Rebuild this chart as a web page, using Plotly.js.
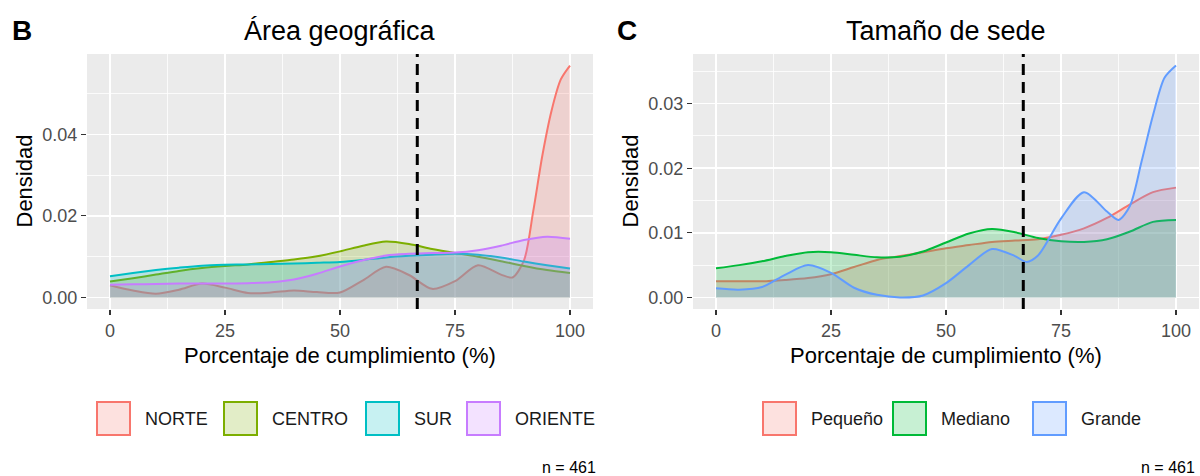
<!DOCTYPE html>
<html>
<head>
<meta charset="utf-8">
<script src="https://cdn.plot.ly/plotly-3.0.1.min.js"></script>
<style>
  html, body { margin: 0; padding: 0; background: #ffffff; }
  #chart { width: 1200px; height: 476px; }
</style>
</head>
<body>
<div id="chart"></div>
<script>
// Densidad del porcentaje de cumplimiento por área geográfica (B) y por tamaño de sede (C)

// ---- Panel B: área geográfica ----
const areaNames = ['NORTE', 'CENTRO', 'SUR', 'ORIENTE'];
const areaColors = ['#F8766D', '#7CAE00', '#00BFC4', '#C77CFF'];

const norteX = [0, 5, 10, 15, 20, 25, 30, 35, 40, 45, 50, 55, 60, 65, 70, 75, 80, 85, 87.5, 90, 92, 94, 96, 98, 100];
const norteY = [0.0030, 0.0017, 0.0009, 0.0019, 0.0034, 0.0024, 0.0011, 0.0012, 0.0017, 0.0013, 0.0012, 0.0042, 0.0075, 0.0055, 0.0021, 0.0040, 0.0079, 0.0056, 0.0049, 0.0091, 0.0211, 0.0349, 0.0459, 0.0535, 0.0569];

const centroX = [0, 5, 10, 15, 20, 25, 30, 35, 40, 45, 50, 55, 60, 65, 70, 75, 80, 85, 90, 95, 100];
const centroY = [0.0039, 0.0047, 0.0056, 0.0065, 0.0072, 0.0077, 0.0081, 0.0087, 0.0093, 0.0101, 0.0113, 0.0127, 0.0137, 0.0131, 0.0119, 0.0109, 0.0100, 0.0089, 0.0077, 0.0067, 0.0060];

const surX = [0, 5, 10, 15, 20, 25, 30, 35, 40, 45, 50, 55, 60, 65, 70, 75, 80, 85, 90, 95, 100];
const surY = [0.0052, 0.0060, 0.0067, 0.0073, 0.0078, 0.0080, 0.0081, 0.0082, 0.0083, 0.0085, 0.0087, 0.0092, 0.0098, 0.0102, 0.0105, 0.0107, 0.0105, 0.0098, 0.0088, 0.0079, 0.0071];

const orienteX = [0, 5, 10, 15, 20, 25, 30, 35, 40, 45, 50, 55, 60, 65, 70, 75, 80, 85, 90, 95, 100];
const orienteY = [0.0031, 0.0032, 0.0033, 0.0034, 0.0034, 0.0034, 0.0035, 0.0037, 0.0044, 0.0058, 0.0076, 0.0091, 0.0103, 0.0107, 0.0109, 0.0110, 0.0116, 0.0127, 0.0141, 0.0149, 0.0144];

// ---- Panel C: tamaño de sede ----
const sedeNames = ['Pequeño', 'Mediano', 'Grande'];
const sedeColors = ['#F8766D', '#00BA38', '#619CFF'];

const pequenoX = [0, 5, 10, 15, 20, 25, 30, 35, 40, 45, 50, 55, 60, 65, 70, 75, 80, 85, 90, 95, 100];
const pequenoY = [0.0025, 0.0025, 0.0025, 0.0027, 0.0030, 0.0036, 0.0047, 0.0058, 0.0064, 0.0070, 0.0076, 0.0081, 0.0086, 0.0088, 0.0090, 0.0097, 0.0107, 0.0123, 0.0144, 0.0163, 0.0170];

const medianoX = [0, 5, 10, 15, 20, 25, 30, 35, 40, 45, 50, 55, 60, 65, 70, 75, 80, 85, 90, 95, 100];
const medianoY = [0.0045, 0.0050, 0.0056, 0.0064, 0.0070, 0.0070, 0.0066, 0.0062, 0.0063, 0.0071, 0.0085, 0.0099, 0.0106, 0.0101, 0.0092, 0.0087, 0.0086, 0.0090, 0.0102, 0.0117, 0.0120];

const grandeX = [0, 5, 10, 15, 20, 25, 30, 35, 40, 45, 50, 55, 60, 65, 67.5, 70, 75, 80, 85, 87.5, 90, 92.5, 95, 97.5, 100];
const grandeY = [0.0014, 0.0012, 0.0016, 0.0035, 0.0050, 0.0038, 0.0015, 0.0004, 0.0000, 0.0003, 0.0022, 0.0050, 0.0075, 0.0064, 0.0055, 0.0065, 0.0122, 0.0163, 0.0133, 0.0120, 0.0142, 0.0210, 0.0282, 0.0340, 0.0359];

// Umbral de referencia (línea discontinua) y tamaño de muestra
const umbral = 66.8;
const nTotal = 461;

const xTicks = [0, 25, 50, 75, 100];
const yTicksB = [0, 0.02, 0.04];
const yTicksC = [0, 0.01, 0.02, 0.03];

const FONT = '"Liberation Sans", Arial, Helvetica, sans-serif';
const W = 1200, H = 476;
const px = v => v / W;
const py = v => 1 - v / H;

function rgba(hex, a) {
  const n = parseInt(hex.slice(1), 16);
  return `rgba(${(n >> 16) & 255},${(n >> 8) & 255},${n & 255},${a})`;
}

const FILL_ALPHA = 0.22;

function densityTrace(x, y, color, xa, ya) {
  return {
    type: 'scatter', mode: 'lines', x: x, y: y,
    xaxis: xa, yaxis: ya,
    line: { color: color, width: 2, shape: 'spline', smoothing: 0.8 },
    fill: 'tozeroy', fillcolor: rgba(color, FILL_ALPHA),
    hoverinfo: 'skip', showlegend: false
  };
}

const seriesB = [[norteX, norteY], [centroX, centroY], [surX, surY], [orienteX, orienteY]];
const seriesC = [[pequenoX, pequenoY], [medianoX, medianoY], [grandeX, grandeY]];

const traces = [];
seriesB.forEach((s, i) => traces.push(densityTrace(s[0], s[1], areaColors[i], 'x', 'y')));
seriesC.forEach((s, i) => traces.push(densityTrace(s[0], s[1], sedeColors[i], 'x2', 'y2')));

// Panel geometry (pixels)
const panelTop = 54, panelBottom = 309;
const panelB = [87, 593];
const panelC = [693, 1199];

function xAxis(domain) {
  return {
    domain: [px(domain[0]), px(domain[1])],
    range: [-5, 105],
    tickmode: 'array', tickvals: xTicks,
    ticks: 'outside', ticklen: 5, tickwidth: 1.1, tickcolor: '#333333',
    tickfont: { family: FONT, size: 18, color: '#4D4D4D' },
    showgrid: true, gridcolor: '#FFFFFF', gridwidth: 1.6,
    minor: { tickmode: 'array', tickvals: [12.5, 37.5, 62.5, 87.5], showgrid: true, gridcolor: '#FFFFFF', gridwidth: 0.8, ticks: '' },
    zeroline: false, showline: false, fixedrange: true
  };
}
function yAxis(range, ticks, minorTicks, anchor) {
  return {
    domain: [py(panelBottom), py(panelTop)],
    anchor: anchor,
    range: range,
    tickmode: 'array', tickvals: ticks, tickformat: '.2f',
    ticks: 'outside', ticklen: 5, tickwidth: 1.1, tickcolor: '#333333',
    tickfont: { family: FONT, size: 18, color: '#4D4D4D' },
    showgrid: true, gridcolor: '#FFFFFF', gridwidth: 1.6,
    minor: { tickmode: 'array', tickvals: minorTicks, showgrid: true, gridcolor: '#FFFFFF', gridwidth: 0.8, ticks: '' },
    zeroline: false, showline: false, fixedrange: true
  };
}

const yMaxB = Math.max(...norteY, ...centroY, ...surY, ...orienteY);
const yMaxC = Math.max(...pequenoY, ...medianoY, ...grandeY);

const layout = {
  width: W, height: H,
  margin: { l: 0, r: 0, t: 0, b: 0 },
  paper_bgcolor: '#FFFFFF',
  plot_bgcolor: '#EBEBEB',
  font: { family: FONT, color: '#000000' },
  showlegend: false,
  xaxis: Object.assign(xAxis(panelB), { anchor: 'y' }),
  yaxis: yAxis([-0.05 * yMaxB, 1.05 * yMaxB], yTicksB, [0.01, 0.03, 0.05], 'x'),
  xaxis2: Object.assign(xAxis(panelC), { anchor: 'y2' }),
  yaxis2: yAxis([-0.05 * yMaxC, 1.05 * yMaxC], yTicksC, [0.005, 0.015, 0.025, 0.035], 'x2'),
  shapes: [],
  annotations: []
};

// Dashed reference lines
[['x', 'y domain'], ['x2', 'y2 domain']].forEach(r => {
  layout.shapes.push({
    type: 'line', xref: r[0], yref: r[1], x0: umbral, x1: umbral, y0: 0, y1: 1,
    line: { color: '#000000', width: 3, dash: '11px,7px' }
  });
});

function addText(text, x, y, opts) {
  layout.annotations.push(Object.assign({
    text: text, xref: 'paper', yref: 'paper', x: px(x), y: py(y),
    showarrow: false, xanchor: 'center', yanchor: 'middle',
    font: { family: FONT, size: 18, color: '#000000' }
  }, opts || {}));
}

// Panel tags and titles
addText('<b>B</b>', 22, 30, { font: { family: FONT, size: 28, color: '#000000' } });
addText('<b>C</b>', 627, 30, { font: { family: FONT, size: 28, color: '#000000' } });
addText('Área geográfica', (panelB[0] + panelB[1]) / 2, 31, { font: { family: FONT, size: 27, color: '#000000' } });
addText('Tamaño de sede', (panelC[0] + panelC[1]) / 2, 31, { font: { family: FONT, size: 27, color: '#000000' } });

// Axis titles
[panelB, panelC].forEach(p => {
  addText('Porcentaje de cumplimiento (%)', (p[0] + p[1]) / 2, 355, { font: { family: FONT, size: 22, color: '#000000' } });
});
addText('Densidad', 24, (panelTop + panelBottom) / 2, { textangle: -90, font: { family: FONT, size: 22, color: '#000000' } });
addText('Densidad', 630, (panelTop + panelBottom) / 2, { textangle: -90, font: { family: FONT, size: 22, color: '#000000' } });

// Legends: filled keys with coloured outline and labels
const keyTop = 401, keySize = 35, keyGap = 12;
function addLegend(names, colors, keyLefts) {
  names.forEach((name, i) => {
    const x0 = keyLefts[i];
    layout.shapes.push({
      type: 'rect', xref: 'paper', yref: 'paper',
      x0: px(x0 + 1), x1: px(x0 + keySize - 1), y0: py(keyTop + keySize - 1), y1: py(keyTop + 1),
      fillcolor: rgba(colors[i], FILL_ALPHA), line: { color: colors[i], width: 2 }
    });
    addText(name, x0 + keySize + keyGap, keyTop + keySize / 2, { xanchor: 'left', font: { family: FONT, size: 18, color: '#1A1A1A' } });
  });
}
addLegend(areaNames, areaColors, [96, 223, 365, 466]);
addLegend(sedeNames, sedeColors, [762, 892, 1032]);

// Sample size captions
addText('n = ' + nTotal, 598, 467, { xanchor: 'right', font: { family: FONT, size: 16, color: '#000000' } });
addText('n = ' + nTotal, 1197, 467, { xanchor: 'right', font: { family: FONT, size: 16, color: '#000000' } });

Plotly.newPlot('chart', traces, layout, { staticPlot: true, displayModeBar: false });
</script>
</body>
</html>
